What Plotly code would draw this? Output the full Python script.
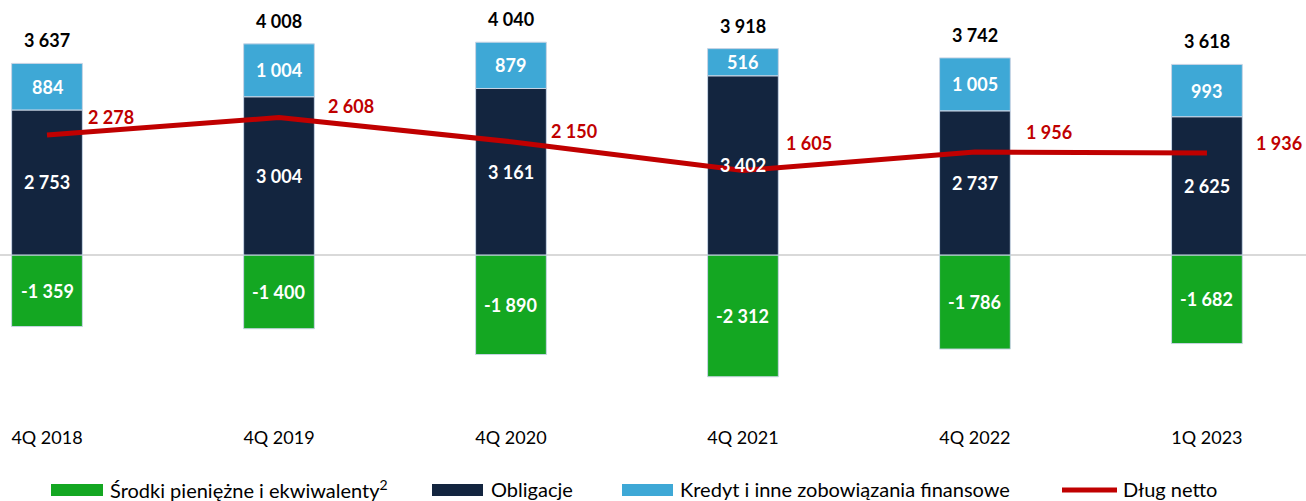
import plotly.graph_objects as go

# ---- data ----
categories = ["4Q 2018", "4Q 2019", "4Q 2020", "4Q 2021", "4Q 2022", "1Q 2023"]
srodki = [-1359, -1400, -1890, -2312, -1786, -1682]
obligacje = [2753, 3004, 3161, 3402, 2737, 2625]
kredyt = [884, 1004, 879, 516, 1005, 993]
dlug_netto = [2278, 2608, 2150, 1605, 1956, 1936]
totals = [3637, 4008, 4040, 3918, 3742, 3618]

series_names = ["Środki pieniężne i ekwiwalenty<sup>2</sup>", "Obligacje",
                "Kredyt i inne zobowiązania finansowe", "Dług netto"]

# ---- styles ----
GREEN = "#14a722"
NAVY = "#13253f"
LBLUE = "#3ea8d6"
RED = "#c00000"
FONT = "Lato"
W, H = 1306, 501
PLOT_BOTTOM = 425  # px from top

# per-label pixel offsets for the net-debt labels (style only)
dlug_shift = [(64, 18), (72, 12), (63, 11), (66, 27), (74, 20), (72, 10)]


def fmt(v):
    s = f"{abs(v):,}".replace(",", " ")
    return ("-" if v < 0 else "") + s


fig = go.Figure()
edge = dict(color="rgba(200,212,228,1)", width=1)
fig.add_trace(go.Bar(x=categories, y=srodki, marker=dict(color=GREEN, line=edge),
                     width=0.305, name=series_names[0], showlegend=False))
fig.add_trace(go.Bar(x=categories, y=obligacje, marker=dict(color=NAVY, line=edge),
                     width=0.305, name=series_names[1], showlegend=False))
fig.add_trace(go.Bar(x=categories, y=kredyt, marker=dict(color=LBLUE, line=edge),
                     width=0.305, name=series_names[2], showlegend=False))
fig.add_trace(go.Scatter(x=categories, y=dlug_netto, mode="lines",
                         line=dict(color=RED, width=5), name=series_names[3],
                         showlegend=False))

ann = []
lab_font_w = dict(family=FONT, size=18, color="white")
for i, c in enumerate(categories):
    ann.append(dict(x=c, y=srodki[i] / 2, text=f"<b>{fmt(srodki[i])}</b>", showarrow=False,
                    font=lab_font_w))
    ann.append(dict(x=c, y=obligacje[i] / 2, text=f"<b>{fmt(obligacje[i])}</b>", showarrow=False,
                    font=lab_font_w))
    ann.append(dict(x=c, y=obligacje[i] + kredyt[i] / 2, text=f"<b>{fmt(kredyt[i])}</b>",
                    showarrow=False, font=lab_font_w))
    ann.append(dict(x=c, y=obligacje[i] + kredyt[i], text=f"<b>{fmt(totals[i])}</b>",
                    showarrow=False, yanchor="bottom", yshift=10,
                    font=dict(family=FONT, size=18, color="black")))
    dx, dy = dlug_shift[i]
    ann.append(dict(x=c, y=dlug_netto[i], text=f"<b>{fmt(dlug_netto[i])}</b>",
                    showarrow=False, xshift=dx, yshift=dy,
                    font=dict(family=FONT, size=18, color=RED)))

# ---- custom legend (paper coordinates) ----
def px_x(p):
    return p / W


def px_y(p):
    return (PLOT_BOTTOM - p) / PLOT_BOTTOM


shapes = []
leg_y = 489
rects = [(51, 103, GREEN), (432, 483, NAVY), (622, 673, LBLUE)]
for x0, x1, col in rects:
    shapes.append(dict(type="rect", xref="paper", yref="paper",
                       x0=px_x(x0), x1=px_x(x1), y0=px_y(484), y1=px_y(496),
                       fillcolor=col, line=dict(width=0)))
shapes.append(dict(type="line", xref="paper", yref="paper",
                   x0=px_x(1062), x1=px_x(1117), y0=px_y(490), y1=px_y(490),
                   line=dict(color=RED, width=5)))
text_x = [108, 489, 678, 1121]
for tx, name in zip(text_x, series_names):
    ann.append(dict(xref="paper", yref="paper", x=px_x(tx), y=px_y(leg_y),
                    xanchor="left", yanchor="middle", text=name, showarrow=False,
                    font=dict(family=FONT, size=20, color="black")))

fig.update_layout(
    width=W, height=H,
    barmode="relative",
    plot_bgcolor="white", paper_bgcolor="white",
    margin=dict(l=0, r=0, t=0, b=H - PLOT_BOTTOM, pad=0),
    xaxis=dict(type="category", range=[-0.2026, 5.427], showgrid=False,
               showline=False, ticks="", tickfont=dict(family=FONT, size=18, color="black"),
               fixedrange=True),
    yaxis=dict(range=[-3228, 4841], showgrid=False, showticklabels=False,
               zeroline=True, zerolinecolor="#d9d9d9", zerolinewidth=2,
               fixedrange=True),
    annotations=ann,
    shapes=shapes,
    showlegend=False,
)

fig.write_html("out.html", config={"displayModeBar": False},
               post_script="document.body.style.margin='0px';document.body.style.overflow='hidden';")
